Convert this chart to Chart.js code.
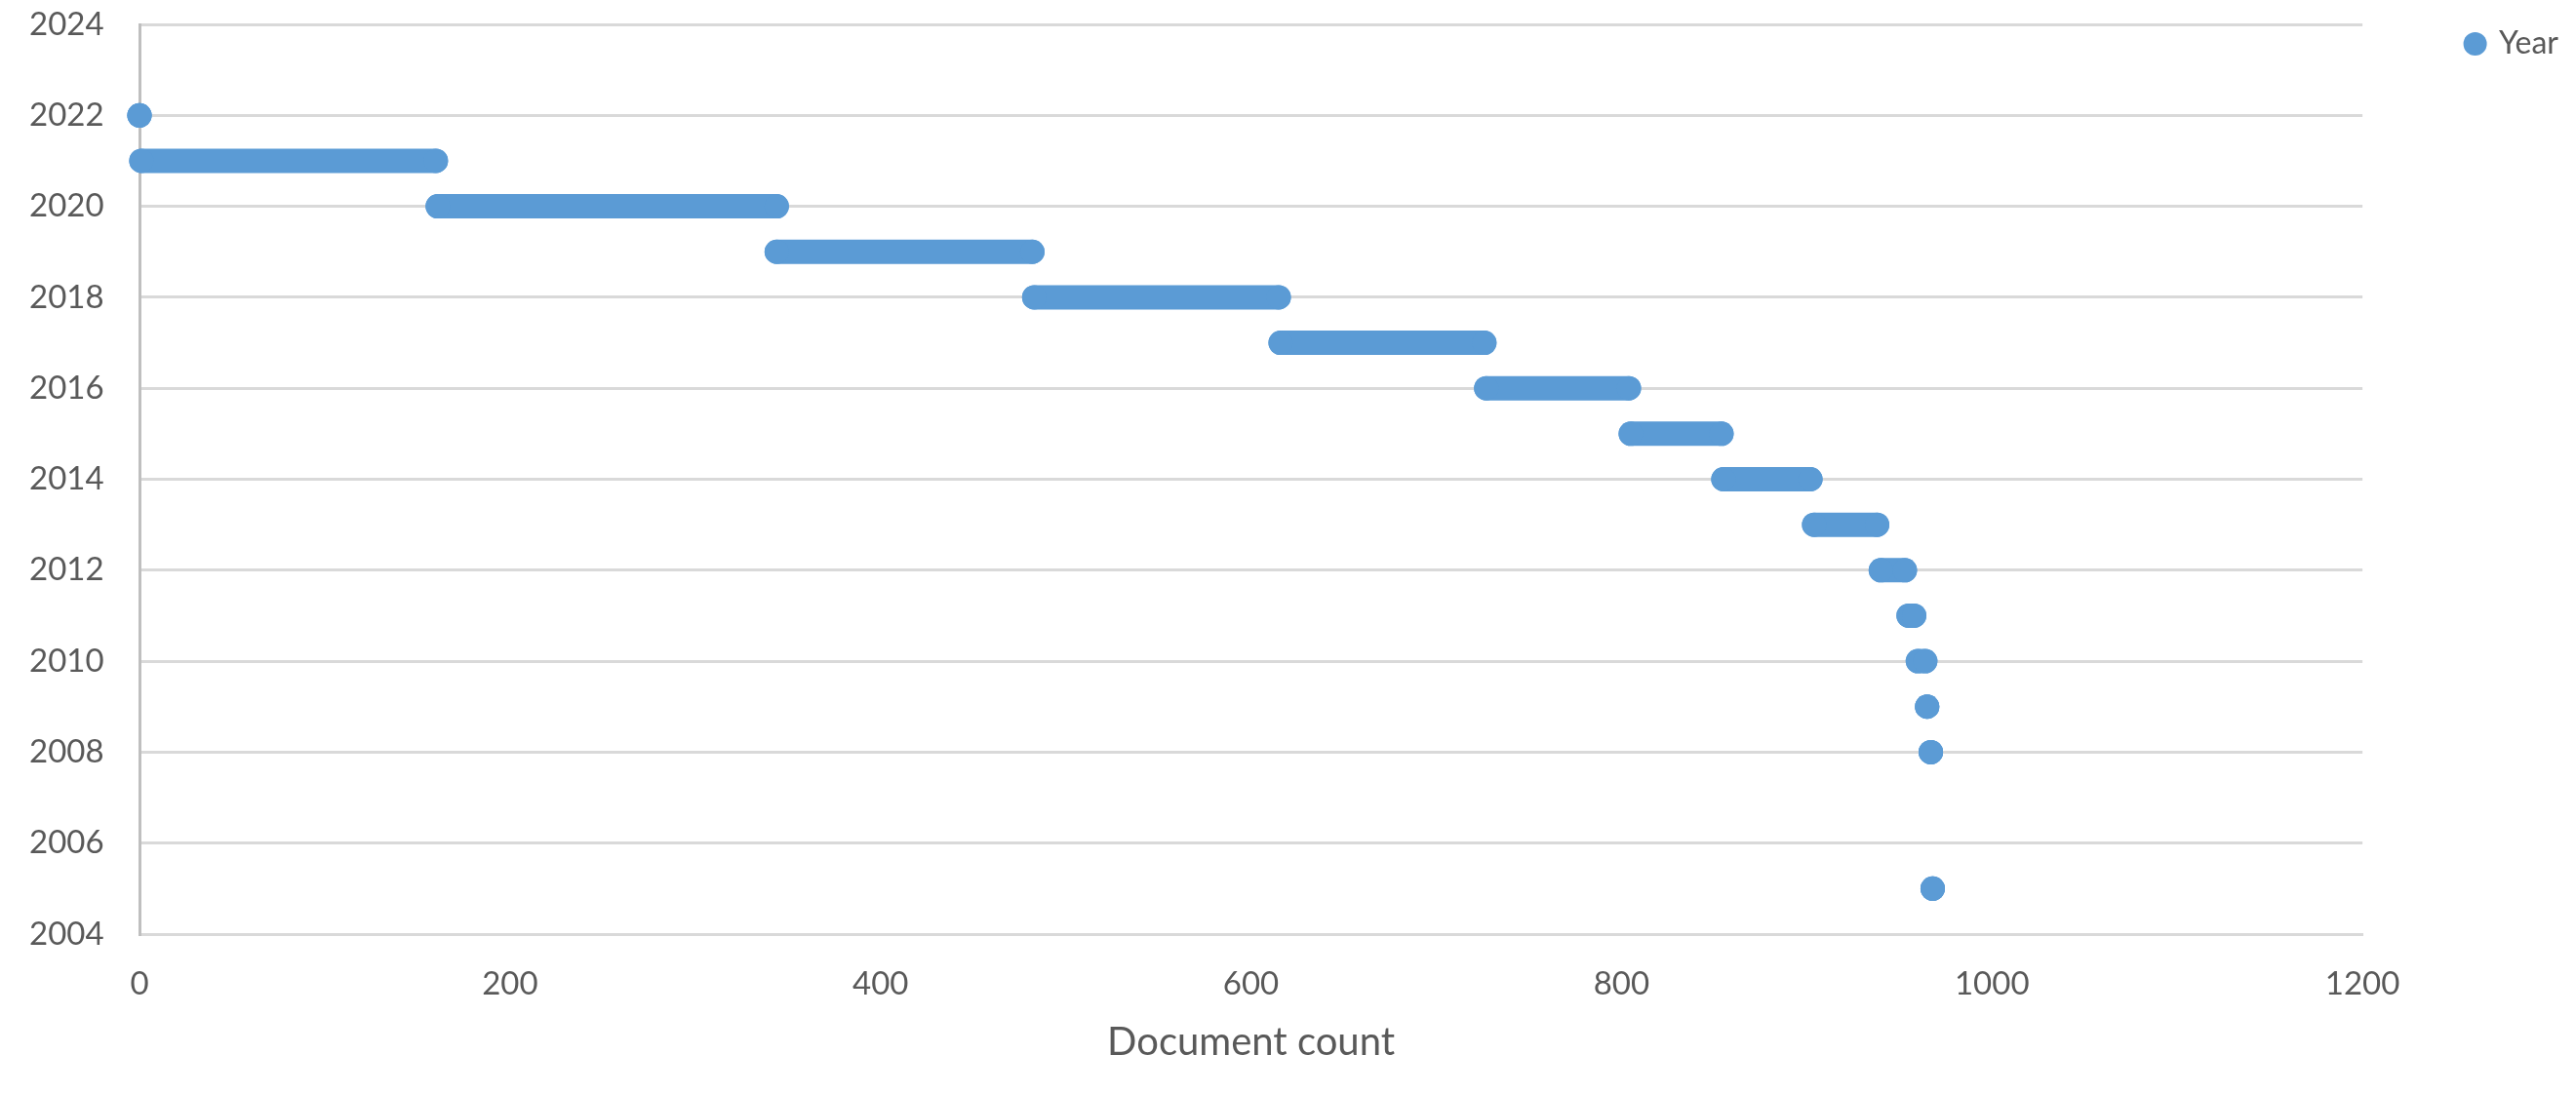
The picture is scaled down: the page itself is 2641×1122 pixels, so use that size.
<!DOCTYPE html>
<html>
<head>
<meta charset="utf-8">
<title>Year by document count</title>
<script src="https://cdn.jsdelivr.net/npm/chart.js@4.4.1/dist/chart.umd.min.js"></script>
<style>
    html, body { margin: 0; padding: 0; background: #ffffff; }
    #wrap { width: 2641px; height: 1122px; position: relative; }
</style>
</head>
<body>
<div id="wrap"><canvas id="chart"></canvas></div>
<script>
// one run of documents per publication year (first and last document index)
const years    = [2022, 2021, 2020, 2019, 2018, 2017, 2016, 2015, 2014, 2013, 2012, 2011, 2010, 2009, 2008, 2005];
const firstDoc = [0,    1,    161,  344,  483,  616,  727,  805,  855,  904,  940,  955,  960,  965,  967,  968];
const lastDoc  = [0,    160,  344,  482,  615,  726,  804,  854,  902,  938,  953,  958,  964,  965,  967,  968];

const yearTicks = { min: 2004, max: 2024, step: 2 };
const countTicks = { min: 0, max: 1200, step: 200 };

const blue = "#5b9bd5";
const textGrey = "#595959";

// each year becomes a short horizontal run, broken from the next by a gap point
const points = [];
years.forEach((y, i) => {
    points.push({ x: firstDoc[i], y: y });
    points.push({ x: lastDoc[i], y: y });
    points.push({ x: lastDoc[i], y: null });
});

Chart.defaults.font.family = "Lato, 'Open Sans', sans-serif";
Chart.defaults.font.size = 33;
Chart.defaults.color = textGrey;

new Chart(document.getElementById("chart").getContext("2d"), {
    type: "scatter",
    data: {
        datasets: [{
            label: "Year",
            data: points,
            showLine: true,
            spanGaps: false,
            borderColor: blue,
            backgroundColor: blue,
            borderWidth: 25,
            borderCapStyle: "round",
            pointRadius: 12.5,
            pointHoverRadius: 12.5,
            pointBorderWidth: 0,
            pointBackgroundColor: blue,
            clip: false
        }]
    },
    options: {
        responsive: true,
        maintainAspectRatio: false,
        animation: false,
        layout: { padding: { top: 25, left: 30, right: 8, bottom: 0 } },
        plugins: {
            tooltip: { enabled: false },
            legend: {
                position: "right",
                align: "start",
                labels: {
                    usePointStyle: true,
                    pointStyle: "circle",
                    boxWidth: 17,
                    boxHeight: 17,
                    padding: 4,
                    color: textGrey,
                    font: { size: 32 }
                }
            }
        },
        scales: {
            x: {
                type: "linear",
                min: countTicks.min,
                max: countTicks.max,
                afterFit: s => { s.height = 164; },
                ticks: {
                    stepSize: countTicks.step,
                    padding: 32,
                    color: textGrey,
                    callback: v => String(v)
                },
                grid: { display: false, drawTicks: false },
                border: { display: true, color: "#d9d9d9", width: 3 },
                title: {
                    display: true,
                    text: "Document count",
                    color: textGrey,
                    font: { size: 40 },
                    padding: { top: 0, bottom: 29 }
                }
            },
            y: {
                type: "linear",
                min: yearTicks.min,
                max: yearTicks.max,
                afterFit: s => { s.width = 113; },
                ticks: {
                    stepSize: yearTicks.step,
                    padding: 0,
                    crossAlign: "far",
                    color: textGrey,
                    callback: v => String(v)
                },
                grid: { color: "#d9d9d9", lineWidth: 3, drawTicks: false },
                border: { display: true, color: "#bfbfbf", width: 3 }
            },
            // empty right-hand axis: keeps the gap between plot and legend
            gap: {
                type: "linear",
                position: "right",
                afterFit: s => { s.width = 103; },
                ticks: { display: false },
                grid: { display: false, drawTicks: false },
                border: { display: false }
            }
        }
    }
});
</script>
</body>
</html>
